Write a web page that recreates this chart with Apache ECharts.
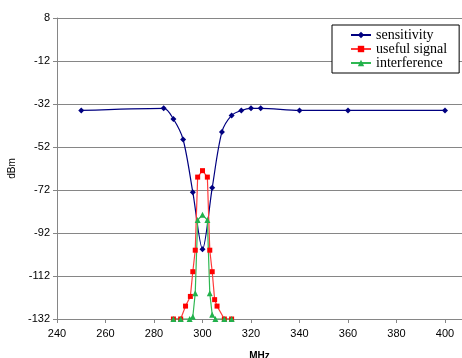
<!DOCTYPE html>
<html>
<head>
<meta charset="utf-8">
<script src="https://cdn.jsdelivr.net/npm/echarts@6/dist/echarts.min.js"></script>
<style>
  html, body { margin: 0; padding: 0; background: #ffffff; }
  #chart { width: 462px; height: 358px; }
</style>
</head>
<body>
<div id="chart"></div>
<script>
// Frequency (MHz) / level (dBm) pairs
const sensitivityMHz = [250, 284, 288, 292, 296, 300, 304, 308, 312, 316, 320, 324, 340, 360, 400];
const sensitivityDbm = [-35, -34, -39, -48.5, -73, -99.5, -71, -45, -37.3, -35, -34, -34, -35, -35, -35];

const usefulMHz = [288, 291, 293, 295, 296, 297, 298, 300, 302, 303, 304, 305, 306, 309, 312];
const usefulDbm = [-132, -132, -126, -121.5, -110, -100, -66, -63, -66, -100, -110, -123, -126, -132, -132];

const interferenceMHz = [288, 291, 294.7, 296, 297, 298, 300, 302, 303, 304, 305.3, 309, 312];
const interferenceDbm = [-132, -132, -132, -131, -120, -86, -83.5, -86, -120, -130, -132, -132, -132];

const seriesNames = ["sensitivity", "useful signal", "interference"];

const pairs = (xs, ys) => xs.map((x, i) => [x, ys[i]]);

const chart = echarts.init(document.getElementById("chart"), null, { renderer: "canvas" });

const axisGray = "#868686";
const labelFont = { color: "#000000", fontSize: 11, fontFamily: "'Liberation Sans', Arial, sans-serif" };

const option = {
  animation: false,
  backgroundColor: "#ffffff",
  grid: { left: 57, top: 18, right: 0, bottom: 39, containLabel: false, outerBoundsMode: "none" },
  legend: {
    orient: "vertical",
    left: 332,
    top: 25,
    data: seriesNames,
    backgroundColor: "#ffffff",
    borderColor: "#000000",
    borderWidth: 1,
    borderRadius: 0,
    padding: [3, 12, 3, 18],
    itemWidth: 20,
    itemHeight: 8,
    itemGap: 0,
    textStyle: {
      color: "#000000",
      fontSize: 14,
      lineHeight: 14,
      fontFamily: "'Liberation Serif', 'Times New Roman', serif",
    },
  },
  xAxis: {
    type: "value",
    min: 240,
    max: 407,
    interval: 20,
    name: "MHz",
    nameLocation: "middle",
    nameGap: 32,
    nameTextStyle: { color: "#000000", fontSize: 10, fontWeight: "bold", fontFamily: "'Liberation Sans', Arial, sans-serif" },
    axisLine: { show: true, onZero: false, lineStyle: { color: axisGray, width: 1 } },
    axisTick: { show: true, inside: false, length: 4, lineStyle: { color: axisGray } },
    axisLabel: { ...labelFont, margin: 9, showMaxLabel: false },
    splitLine: { show: false },
  },
  yAxis: {
    type: "value",
    min: -132,
    max: 8,
    interval: 20,
    name: "dBm",
    nameLocation: "middle",
    nameGap: 37,
    nameRotate: 90,
    nameTextStyle: { color: "#000000", fontSize: 10, fontFamily: "'Liberation Sans', Arial, sans-serif" },
    axisLine: { show: true, onZero: false, lineStyle: { color: axisGray, width: 1 } },
    axisTick: { show: true, inside: false, length: 4, lineStyle: { color: axisGray } },
    axisLabel: { ...labelFont, margin: 7 },
    splitLine: { show: true, lineStyle: { color: axisGray, width: 1 } },
  },
  series: [
    {
      name: seriesNames[0],
      type: "line",
      data: pairs(sensitivityMHz, sensitivityDbm),
      smooth: 0.3,
      symbol: "diamond",
      symbolSize: 6,
      lineStyle: { color: "#000080", width: 1.2 },
      itemStyle: { color: "#000080" },
    },
    {
      name: seriesNames[1],
      type: "line",
      data: pairs(usefulMHz, usefulDbm),
      symbol: "rect",
      symbolSize: 5,
      lineStyle: { color: "#ff3a3a", width: 1.2 },
      itemStyle: { color: "#ff0000" },
    },
    {
      name: seriesNames[2],
      type: "line",
      data: pairs(interferenceMHz, interferenceDbm),
      symbol: "triangle",
      symbolSize: 6,
      lineStyle: { color: "#2fb852", width: 1.2 },
      itemStyle: { color: "#22b14c" },
    },
  ],
};

chart.setOption(option);
</script>
</body>
</html>
